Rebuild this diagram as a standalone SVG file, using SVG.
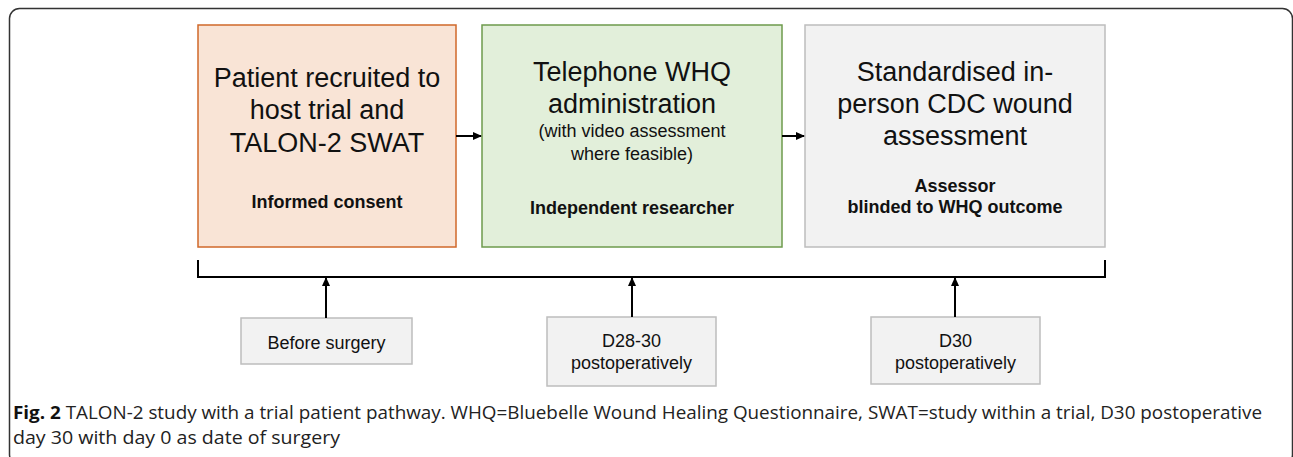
<svg xmlns="http://www.w3.org/2000/svg" width="1293" height="457" viewBox="0 0 1293 457">
<style>
.t{font-family:"Liberation Sans",Arial,sans-serif;fill:#111;text-anchor:middle}
.big{font-size:27px}
.mid{font-size:18px}
.b{font-weight:bold}
.cap{font-family:"Open Sans","Liberation Sans",sans-serif;font-size:18.5px;fill:#222}
.ln{stroke:#000;stroke-width:2;fill:none}
</style>
<defs>
<marker id="ah" markerWidth="10" markerHeight="10" refX="8" refY="4" orient="auto" markerUnits="userSpaceOnUse">
<path d="M0,0 L9,4 L0,8 Z" fill="#000"/>
</marker>
</defs>
<rect x="9.5" y="8.5" width="1283" height="456" rx="10" fill="#fff" stroke="#333" stroke-width="1.5"/>
<g id="n1">
<rect x="198" y="25" width="258" height="222" fill="#f9e4d6" stroke="#d0682a" stroke-width="1.5"/>
<text class="t big" x="327" y="87">Patient recruited to</text>
<text class="t big" x="327" y="119">host trial and</text>
<text class="t big" x="327" y="152">TALON-2 SWAT</text>
<text class="t mid b" x="327" y="208">Informed consent</text>
</g>
<g id="n2">
<rect x="482" y="25" width="300" height="222" fill="#e2efda" stroke="#6e9b4c" stroke-width="1.5"/>
<text class="t big" x="632" y="81">Telephone WHQ</text>
<text class="t big" x="632" y="113">administration</text>
<text class="t mid" x="632" y="137">(with video assessment</text>
<text class="t mid" x="632" y="160">where feasible)</text>
<text class="t mid b" x="632" y="214">Independent researcher</text>
</g>
<g id="n3">
<rect x="805" y="25" width="300" height="222" fill="#f2f2f2" stroke="#bdbdbd" stroke-width="1.5"/>
<text class="t big" x="955" y="81">Standardised in-</text>
<text class="t big" x="955" y="113">person CDC wound</text>
<text class="t big" x="955" y="145">assessment</text>
<text class="t mid b" x="955" y="192">Assessor</text>
<text class="t mid b" x="955" y="213">blinded to WHQ outcome</text>
</g>
<g id="n4">
<rect x="241" y="318" width="171" height="46" fill="#f2f2f2" stroke="#bdbdbd" stroke-width="1.5"/>
<text class="t mid" x="326.5" y="349">Before surgery</text>
</g>
<g id="n5">
<rect x="547" y="317" width="169" height="69" fill="#f2f2f2" stroke="#bdbdbd" stroke-width="1.5"/>
<text class="t mid" x="631.5" y="347">D28-30</text>
<text class="t mid" x="631.5" y="369">postoperatively</text>
</g>
<g id="n6">
<rect x="871" y="317" width="169" height="67" fill="#f2f2f2" stroke="#bdbdbd" stroke-width="1.5"/>
<text class="t mid" x="955.5" y="347">D30</text>
<text class="t mid" x="955.5" y="369">postoperatively</text>
</g>
<g id="connectors">
<line class="ln" x1="456" y1="136" x2="481" y2="136" marker-end="url(#ah)"/>
<line class="ln" x1="782" y1="136" x2="804" y2="136" marker-end="url(#ah)"/>
<polyline class="ln" points="198,260 198,277 1105,277 1105,260"/>
<line class="ln" x1="326" y1="318" x2="326" y2="278" marker-end="url(#ah)"/>
<line class="ln" x1="632" y1="317" x2="632" y2="278" marker-end="url(#ah)"/>
<line class="ln" x1="955" y1="317" x2="955" y2="278" marker-end="url(#ah)"/>
</g>
<g id="caption">
<text class="cap" x="13" y="419" textLength="1249" lengthAdjust="spacingAndGlyphs"><tspan font-weight="bold" fill="#111">Fig. 2</tspan> TALON-2 study with a trial patient pathway. WHQ=Bluebelle Wound Healing Questionnaire, SWAT=study within a trial, D30 postoperative</text>
<text class="cap" x="13" y="444" textLength="327" lengthAdjust="spacingAndGlyphs">day 30 with day 0 as date of surgery</text>
</g>
</svg>
